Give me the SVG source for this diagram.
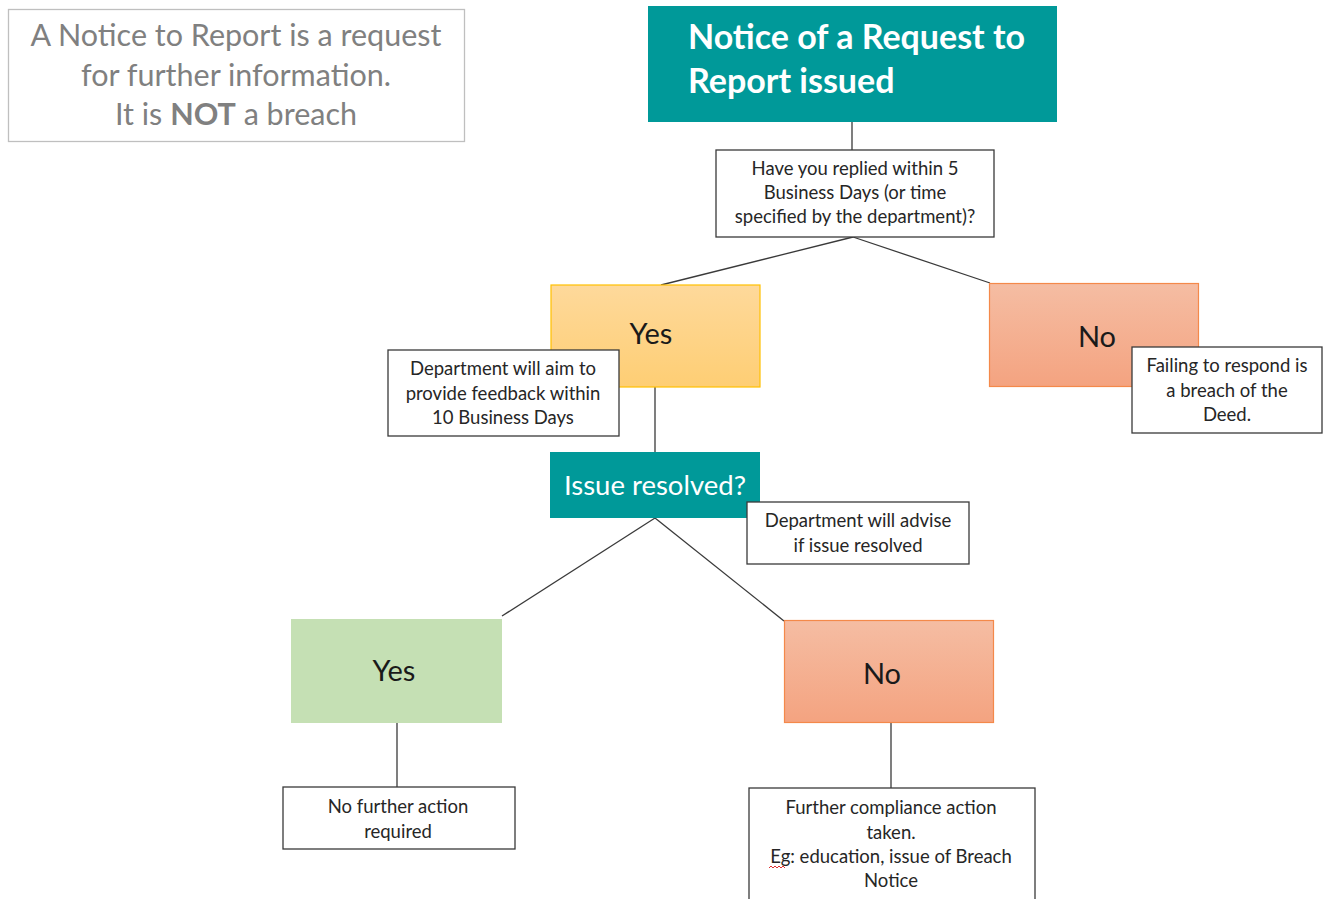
<svg xmlns="http://www.w3.org/2000/svg" width="1327" height="899" viewBox="0 0 1327 899">
<defs>
<linearGradient id="gYellow" x1="0" y1="0" x2="0" y2="1"><stop offset="0" stop-color="#fed99b"/><stop offset="1" stop-color="#fece74"/></linearGradient>
<linearGradient id="gRed" x1="0" y1="0" x2="0" y2="1"><stop offset="0" stop-color="#f5bda3"/><stop offset="1" stop-color="#f4a380"/></linearGradient>
<style>
text{font-family:Lato,"Open Sans","Liberation Sans",sans-serif}
.note{fill:#fff;stroke:#3a3a3a;stroke-width:1.3}
.nt{font-size:18.5px;fill:#262626;text-anchor:middle}
.big{font-size:29px;fill:#1a1a1a;text-anchor:middle}
.teal{fill:#009999}
.conn line{stroke:#3a3a3a;stroke-width:1.3}
</style>
</defs>
<rect width="1327" height="899" fill="#fff"/>
<g id="info">
<rect x="8.5" y="9.5" width="456" height="132" fill="#fff" stroke="#bfbfbf" stroke-width="1.3"/>
<text x="236" y="46" font-size="30.5" fill="#808080" text-anchor="middle">A Notice to Report is a request</text>
<text x="236" y="86" font-size="30.5" fill="#808080" text-anchor="middle">for further information.</text>
<text x="236" y="125" font-size="30.5" fill="#808080" text-anchor="middle">It is <tspan font-weight="bold">NOT</tspan> a breach</text>
</g>
<g class="conn" id="connectors">
<line x1="852" y1="122" x2="852" y2="150"/>
<line x1="853" y1="237" x2="661" y2="285"/>
<line x1="853" y1="237" x2="990" y2="283"/>
<line x1="655" y1="387" x2="655" y2="452"/>
<line x1="655" y1="518" x2="502" y2="616"/>
<line x1="655" y1="518" x2="784" y2="621"/>
<line x1="397" y1="723" x2="397" y2="787"/>
<line x1="891" y1="723" x2="891" y2="788"/>
</g>
<g id="title">
<rect class="teal" x="648" y="6" width="409" height="116"/>
<text x="688" y="49" font-size="34" font-weight="bold" fill="#fff">Notice of a Request to</text>
<text x="688" y="93" font-size="34" font-weight="bold" fill="#fff">Report issued</text>
</g>
<g id="question">
<rect class="note" x="716" y="150" width="278" height="87"/>
<text class="nt" x="855" y="175">Have you replied within 5</text>
<text class="nt" x="855" y="199">Business Days (or time</text>
<text class="nt" x="855" y="223">specified by the department)?</text>
</g>
<g id="yes1">
<rect x="551" y="285" width="209" height="102" fill="url(#gYellow)" stroke="#ffc000" stroke-width="1.2"/>
<text class="big" x="651" y="344">Yes</text>
</g>
<g id="no1">
<rect x="989.5" y="283.5" width="209" height="103" fill="url(#gRed)" stroke="#f4894a" stroke-width="1.2"/>
<text class="big" x="1097" y="347">No</text>
</g>
<g id="failing">
<rect class="note" x="1132" y="347" width="190" height="86"/>
<text class="nt" x="1227" y="372">Failing to respond is</text>
<text class="nt" x="1227" y="397">a breach of the</text>
<text class="nt" x="1227" y="421">Deed.</text>
</g>
<g id="deptAim">
<rect class="note" x="388" y="350" width="231" height="86"/>
<text class="nt" x="503" y="375">Department will aim to</text>
<text class="nt" x="503" y="400">provide feedback within</text>
<text class="nt" x="503" y="424">10 Business Days</text>
</g>
<g id="resolved">
<rect class="teal" x="550" y="452" width="210" height="66"/>
<text x="655" y="495" font-size="27.5" fill="#fff" text-anchor="middle">Issue resolved?</text>
</g>
<g id="deptAdvise">
<rect class="note" x="747" y="502" width="222" height="62"/>
<text class="nt" x="858" y="527">Department will advise</text>
<text class="nt" x="858" y="552">if issue resolved</text>
</g>
<g id="yes2">
<rect x="291" y="619" width="211" height="104" fill="#c5e0b4"/>
<text class="big" x="394" y="681">Yes</text>
</g>
<g id="no2">
<rect x="784.5" y="620.5" width="209" height="102" fill="url(#gRed)" stroke="#f4894a" stroke-width="1.2"/>
<text class="big" x="882" y="684">No</text>
</g>
<g id="noFurther">
<rect class="note" x="283" y="787" width="232" height="62"/>
<text class="nt" x="398" y="813">No further action</text>
<text class="nt" x="398" y="838">required</text>
</g>
<g id="furtherAction">
<rect class="note" x="749" y="788" width="286" height="120"/>
<text class="nt" x="891" y="814">Further compliance action</text>
<text class="nt" x="891" y="839">taken.</text>
<text class="nt" x="891" y="863">Eg: education, issue of Breach</text>
<text class="nt" x="891" y="887">Notice</text>
<path d="M769 868 l2 -2 l2 2 l2 -2 l2 2 l2 -2 l2 2 l2 -2 l2 2" fill="none" stroke="#e03030" stroke-width="1"/>
</g>
</svg>
